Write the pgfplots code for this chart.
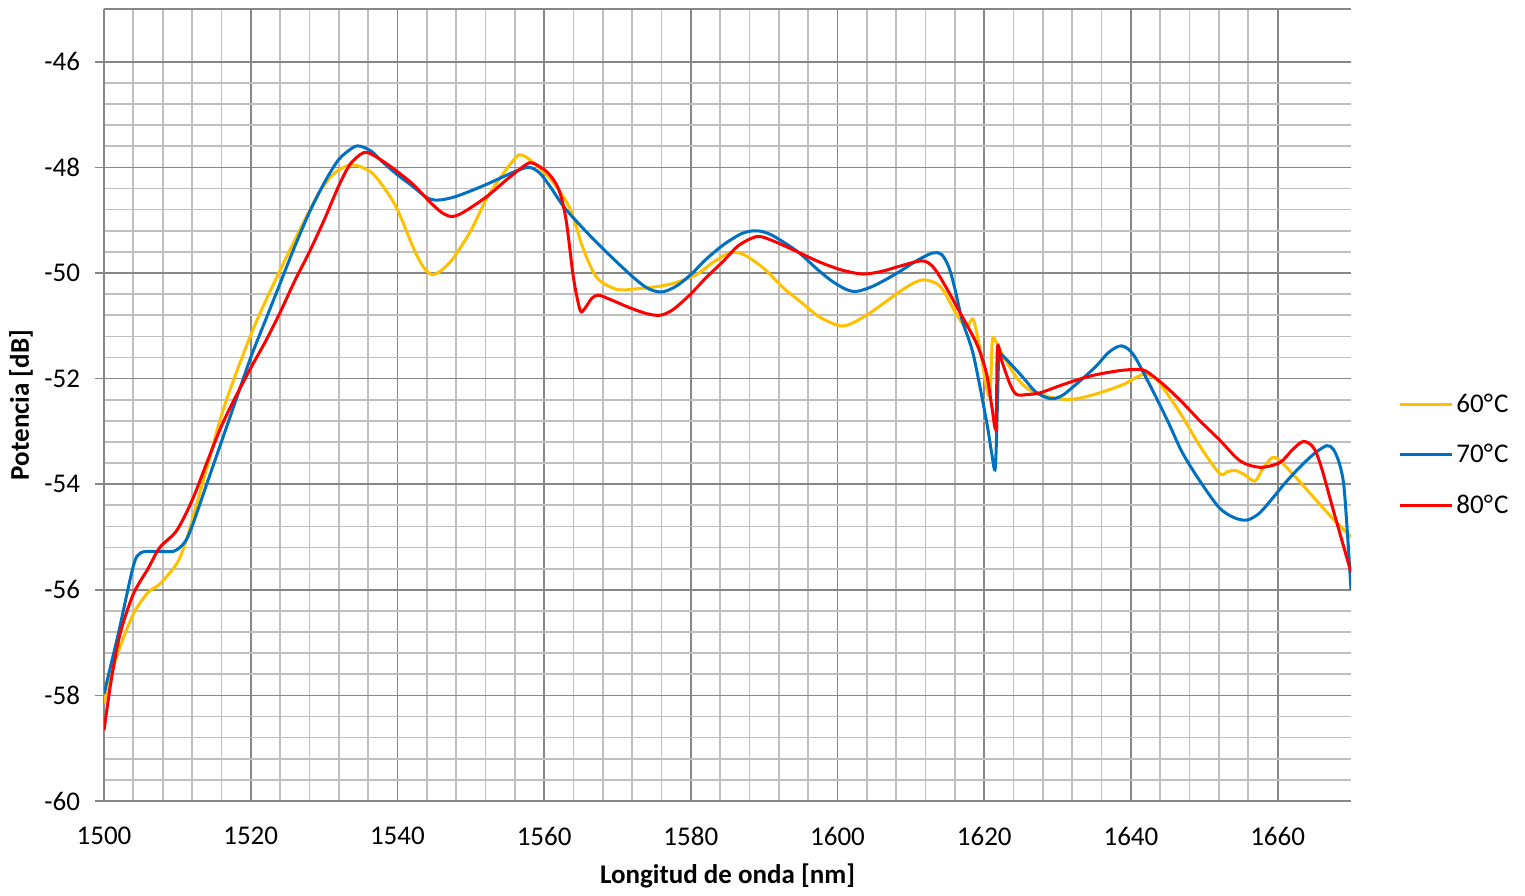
\documentclass[border=0pt]{standalone}
\usepackage{fontspec}
\setmainfont{Carlito}
\usepackage{pgfplots}
\pgfplotsset{compat=1.18}
\definecolor{c60}{HTML}{FFC000}
\definecolor{c70}{HTML}{0070C0}
\definecolor{c80}{HTML}{FF0000}
\definecolor{majgrid}{HTML}{878787}
\definecolor{mingrid}{HTML}{BFBFBF}
\newcommand{\fs}{\fontsize{13.5}{16}\selectfont}
\begin{document}
\begin{tikzpicture}
\begin{axis}[
  scale only axis,
  width=623.5pt, height=396pt,
  xmin=1500, xmax=1670, ymin=-60, ymax=-45,
  xtick={1500,1520,...,1660},
  ytick={-60,-58,...,-46},
  minor x tick num=4,
  minor y tick num=4,
  grid=both,
  major grid style={draw=majgrid, line width=0.85pt},
  minor grid style={draw=mingrid, line width=0.85pt},
  axis lines*=left,
  axis line style={draw=majgrid, line width=0.85pt},
  tick align=outside,
  major tick length=4.5pt,
  minor tick length=0pt,
  xtick style={draw=none},
  ytick style={draw=majgrid, line width=0.85pt},
  /pgf/number format/assume math mode=true,
  /pgf/number format/1000 sep={},
  tick label style={font=\fs},
  xticklabel style={yshift=-5pt},
  yticklabel style={xshift=-4pt},
  every axis x label/.style={at={(axis description cs:0.5,-0.0947)}, anchor=center, font=\fs\bfseries},
  every axis y label/.style={at={(axis description cs:-0.0666,0.5)}, rotate=90, anchor=center, font=\fs\bfseries},
  xlabel={Longitud de onda [nm]},
  ylabel={Potencia [dB]},
  legend style={at={(axis description cs:1.0377,0.437)}, anchor=west, draw=none, fill=none,
    font=\fs, row sep=14.5pt, inner sep=0pt, nodes={inner xsep=1.5pt, inner ysep=0pt}},
  legend cell align=left,
  legend image code/.code={\draw[#1] (0pt,0pt) -- (26pt,0pt);},
  every axis plot/.append style={line width=1.5pt, smooth, no markers},
  clip=true,
]
\addplot[c60] coordinates {
(1500,-58.15) (1501.7,-57.27) (1504,-56.46) (1506,-56.05) (1507.6,-55.89) (1509.9,-55.51) (1511,-55.15) (1512,-54.69)
(1514,-53.7) (1516,-52.7) (1518,-51.9) (1520.8,-50.91) (1524,-49.95) (1527,-49.1) (1529.4,-48.46) (1531.5,-48.1)
(1533.8,-47.95) (1536.3,-48.08) (1538,-48.35) (1539.9,-48.77) (1542.2,-49.53) (1543.5,-49.88) (1544.7,-50.03) (1546,-49.95)
(1547.6,-49.72) (1550,-49.2) (1552.2,-48.58) (1554.5,-48.1) (1556.3,-47.79) (1557,-47.77) (1558.1,-47.86) (1560.8,-48.21)
(1563.5,-48.77) (1565.3,-49.53) (1567.2,-50.09) (1569.9,-50.31) (1572.5,-50.3) (1575.8,-50.25) (1578,-50.18) (1580.8,-50.03)
(1583,-49.8) (1585.3,-49.62) (1587.2,-49.65) (1590,-49.92) (1592.6,-50.28) (1595,-50.55) (1597.5,-50.83) (1600.3,-51.0)
(1602,-50.95) (1604.5,-50.75) (1606.5,-50.55) (1608.5,-50.35) (1610.5,-50.18) (1611.9,-50.13) (1613.5,-50.2) (1614.5,-50.35)
(1616.2,-50.78) (1617.3,-51.0) (1617.8,-51.0) (1618.5,-50.88) (1619.4,-51.42) (1620.3,-52.17) (1620.8,-52.3) (1621.1,-51.29)
(1621.6,-51.3) (1622.3,-51.5) (1624.4,-51.98) (1626,-52.2) (1627.6,-52.3) (1630,-52.38) (1632.1,-52.39) (1634.5,-52.32)
(1636.6,-52.23) (1639,-52.11) (1641.7,-51.92) (1643.5,-52.02) (1645.5,-52.4) (1647.1,-52.74) (1649.5,-53.3) (1652.1,-53.8)
(1653.2,-53.76) (1654.2,-53.74) (1655.5,-53.82) (1656.9,-53.94) (1658,-53.7) (1659.2,-53.5) (1660,-53.52) (1660.8,-53.62)
(1663,-53.95) (1665.3,-54.31) (1667.5,-54.65) (1670,-55.0)
};
\addlegendentry{60°\kern0.6pt C}
\addplot[c70] coordinates {
(1500,-57.97) (1502,-56.8) (1504,-55.55) (1505,-55.3) (1507,-55.27) (1509.5,-55.27) (1511,-55.1) (1512,-54.8)
(1514,-54.0) (1516,-53.2) (1518,-52.4) (1520,-51.6) (1522,-50.9) (1524,-50.2) (1526,-49.5) (1528,-48.85)
(1530,-48.3) (1532,-47.85) (1534,-47.62) (1535,-47.6) (1536.5,-47.7) (1538,-47.9) (1540,-48.14) (1542,-48.35)
(1544,-48.57) (1545.5,-48.62) (1548,-48.55) (1552,-48.33) (1556,-48.08) (1558,-48.0) (1559.5,-48.12) (1561,-48.4)
(1563,-48.8) (1567,-49.4) (1571.5,-50.0) (1574,-50.28) (1576,-50.36) (1578,-50.25) (1580,-50.03) (1582,-49.75)
(1584.5,-49.46) (1587,-49.25) (1589,-49.2) (1591,-49.28) (1594.5,-49.59) (1597,-49.9) (1599,-50.13) (1601,-50.3)
(1602.5,-50.35) (1604.5,-50.27) (1606.5,-50.13) (1608.5,-49.97) (1611,-49.75) (1613,-49.62) (1614.2,-49.65) (1615.2,-49.9)
(1616,-50.3) (1617,-50.9) (1618.5,-51.54) (1620.3,-52.8) (1621,-53.4) (1621.5,-53.7) (1621.8,-52.5) (1622,-51.6)
(1622.6,-51.58) (1625.3,-51.98) (1627,-52.25) (1629,-52.38) (1630.5,-52.33) (1632,-52.17) (1635,-51.8) (1637,-51.5)
(1638.7,-51.38) (1640.3,-51.54) (1642.5,-52.1) (1645,-52.8) (1647,-53.4) (1649.4,-53.94) (1652,-54.44) (1654,-54.63)
(1655.8,-54.68) (1657.5,-54.55) (1659.4,-54.25) (1661,-53.98) (1663,-53.68) (1665,-53.42) (1666.7,-53.27) (1667.6,-53.34)
(1668.4,-53.6) (1669,-54.0) (1669.5,-54.9) (1670,-56.0)
};
\addlegendentry{70°\kern0.6pt C}
\addplot[c80] coordinates {
(1500,-58.66) (1501,-57.7) (1502.2,-56.83) (1504,-56.08) (1506,-55.6) (1507.6,-55.2) (1509.9,-54.88) (1512,-54.31)
(1514,-53.6) (1516,-52.9) (1518,-52.33) (1520,-51.8) (1522,-51.3) (1524,-50.75) (1526,-50.15) (1528,-49.6)
(1530,-49.0) (1532,-48.35) (1533.5,-47.95) (1535,-47.75) (1536,-47.72) (1538,-47.88) (1540,-48.08) (1542.2,-48.33) (1544.4,-48.65)
(1546,-48.85) (1547.4,-48.93) (1549,-48.85) (1552.2,-48.55) (1555,-48.22) (1557.5,-47.95) (1558.5,-47.92) (1560.5,-48.1)
(1562,-48.42) (1563,-49.0) (1564,-50.09) (1564.9,-50.7) (1565.5,-50.68) (1566.5,-50.48) (1567.4,-50.42) (1569,-50.5)
(1571.7,-50.66) (1574,-50.77) (1575.8,-50.8) (1577.5,-50.7) (1579.9,-50.41) (1582,-50.1) (1584.4,-49.78) (1586.5,-49.48)
(1589,-49.31) (1591,-49.38) (1594.4,-49.59) (1597,-49.76) (1599,-49.87) (1601,-49.96) (1603.5,-50.02) (1606,-49.97)
(1608.5,-49.87) (1611.5,-49.77) (1613,-49.88) (1614.5,-50.2) (1616.5,-50.7) (1619,-51.35) (1620.3,-51.9) (1621,-52.5)
(1621.6,-52.93) (1621.8,-51.42) (1622.4,-51.67) (1623.5,-52.1) (1624.4,-52.3) (1626,-52.3) (1627.6,-52.27) (1630,-52.15)
(1632.1,-52.05) (1634.5,-51.95) (1636.6,-51.89) (1639,-51.84) (1641.5,-51.83) (1643,-51.95) (1644.9,-52.17) (1647,-52.45)
(1649.4,-52.8) (1652,-53.15) (1654.9,-53.56) (1657.6,-53.68) (1660.3,-53.59) (1662,-53.35) (1663.5,-53.19) (1664.9,-53.31)
(1666,-53.7) (1667.6,-54.5) (1670,-55.67)
};
\addlegendentry{80°\kern0.6pt C}
\draw[majgrid, line width=0.85pt] (rel axis cs:0,1) -- (rel axis cs:1,1);
\end{axis}
\pgfresetboundingbox
\path ([shift={(-52pt,-47pt)}]current axis.south west) rectangle ([shift={(87pt,4.5pt)}]current axis.north east);
\end{tikzpicture}
\end{document}
